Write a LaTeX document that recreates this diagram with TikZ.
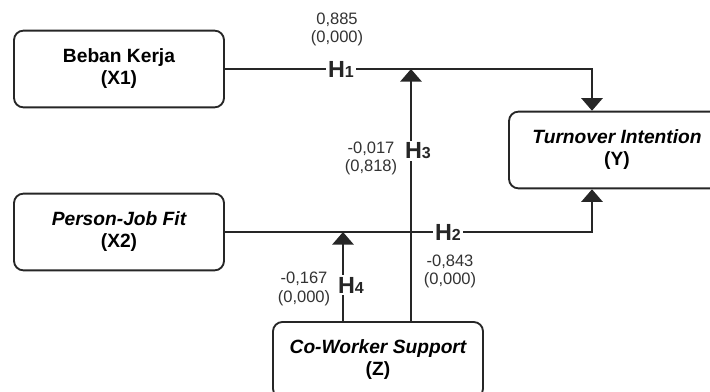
\documentclass[tikz,border=0pt]{standalone}
\usepackage{fontspec}
\setmainfont{Liberation Sans}
\usetikzlibrary{arrows.meta}

\tikzset{
	varbox/.style={draw=black!85, line width=1.4pt, rounded corners=7pt, minimum width=157.5pt, minimum height=57.5pt, align=center, font=\fontsize{14.4}{16.5}\selectfont\bfseries},
	link/.style={draw=black!85, line width=1.6pt},
	arr/.style={link, -{Triangle[width=16pt,length=9.5pt]}},
	hyp/.style={fill=white, inner sep=1.5pt, text=black!85, font=\fontsize{17.5}{18}\selectfont\bfseries},
	coef/.style={align=center, inner sep=0pt, text=black!80, font=\fontsize{12.4}{13.8}\selectfont},
}
\newcommand{\hypno}[1]{H{\fontsize{12}{12}\selectfont #1}}

\begin{document}
\begin{tikzpicture}[x=0.75pt, y=-0.75pt]
			%%%%% START %%%%%
			\useasboundingbox (0,0) rectangle (710,392);
			
			% variables
			\node[varbox] (x1) at (119,69) {Beban Kerja\\(X1)};
			\node[varbox] (x2) at (119,232) {\itshape Person-Job Fit\\(X2)};
			\node[varbox, minimum width=162pt] (y) at (617,150) {\itshape Turnover Intention\\(Y)};
			\node[varbox, minimum height=57pt] (z) at (378,360) {\itshape Co-Worker Support\\(Z)};
			
			% moderation points
			\coordinate (m1) at (411,69);
			\coordinate (m2) at (343,232);
			
			% direct paths
			\draw[arr] (x1.east) -| ([xshift=-18.75pt]y.north);
			\draw[arr] (x2.east) -| ([xshift=-18.75pt]y.south);
			
			% moderating paths
			\draw[arr] (z.north -| m1) -- (m1);
			\draw[arr] (z.north -| m2) -- (m2);
			
			% hypotheses
			\node[hyp] (h1) at (341,69) {\hypno{1}};
			\node[hyp] (h2) at (448,232) {\hypno{2}};
			\node[hyp] (h3) at (418,151) {\hypno{3}};
			\node[hyp] (h4) at (351,285) {\hypno{4}};
			
			% coefficients
			\node[coef] (c1) at (337,29.5) {0,885\\(0,000)};
			\node[coef] (c2) at (450,271.5) {-0,843\\(0,000)};
			\node[coef] (c3) at (371,158.5) {-0,017\\(0,818)};
			\node[coef] (c4) at (304,289) {-0,167\\(0,000)};
			%%%%% END %%%%%
\end{tikzpicture}
\end{document}
